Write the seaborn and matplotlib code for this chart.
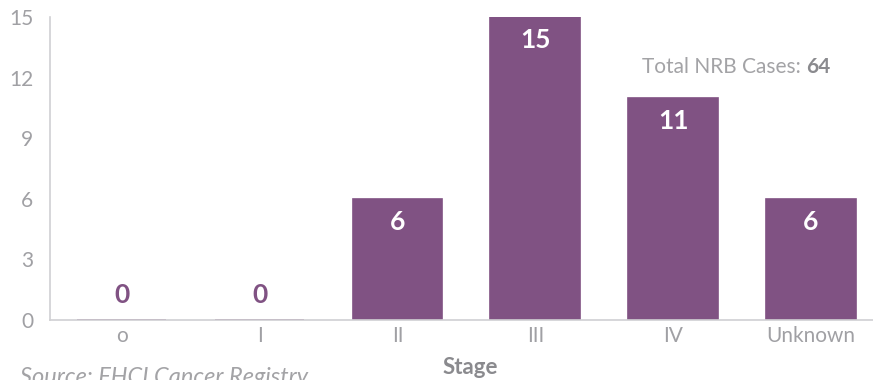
import matplotlib
matplotlib.use("Agg")
import matplotlib.pyplot as plt
import seaborn as sns
import pandas as pd

stages = ["o", "I", "II", "III", "IV", "Unknown"]
cases = [0, 0, 6, 15, 11, 6]
yticks = [0, 3, 6, 9, 12, 15]
total_cases = 64

purple = "#805283"
grey = "#a3a3a6"
dark_grey = "#8a8a8e"

sns.set_theme(style="white")
plt.rcParams["font.family"] = ["Lato", "DejaVu Sans"]

df = pd.DataFrame({"Stage": stages, "Cases": cases})

fig = plt.figure(figsize=(8.73, 3.80), dpi=100)
ax = fig.add_axes([50 / 873, 60 / 380, 1 - 50 / 873, (320 - 17) / 380])

sns.barplot(data=df, x="Stage", y="Cases", order=stages, color=purple,
            saturation=1, width=0.65, ax=ax, edgecolor=purple, linewidth=1.2)

ax.set_xlim(-0.52, 5.45)
ax.set_ylim(0, 15)
ax.set_yticks(yticks)
ax.set_yticklabels([str(v) for v in yticks])
ax.tick_params(axis="both", length=0, labelsize=15, colors="#a0a0a4")
ax.tick_params(axis="y", pad=12)
ax.tick_params(axis="x", pad=4)

for s in ["top", "right"]:
    ax.spines[s].set_visible(False)
for s in ["left", "bottom"]:
    ax.spines[s].set_color("#d0d0d3")
    ax.spines[s].set_linewidth(1.2)

ax.set_xlabel("")
ax.set_ylabel("")

for i, v in enumerate(cases):
    if v == 0:
        ax.annotate(str(v), xy=(i, 0), xytext=(0, 25), textcoords="offset pixels",
                    ha="center", va="center", fontsize=19, fontweight="bold",
                    color=purple)
    else:
        ax.annotate(str(v), xy=(i, v), xytext=(0, -23), textcoords="offset pixels",
                    ha="center", va="center", fontsize=19, fontweight="bold",
                    color="white")

t = fig.text(642 / 873, 1 - 67 / 380, "Total NRB Cases: ", ha="left", va="center",
             fontsize=15, color=grey)
ax.annotate(str(total_cases), xy=(1, 0.5), xycoords=t, ha="left", va="center",
            fontsize=15, fontweight="bold", color=dark_grey)

fig.text(470 / 873, 1 - 368 / 380, "Stage", ha="center", va="center",
         fontsize=16, fontweight="bold", color=dark_grey)
fig.text(20 / 873, 1 - 378 / 380, "Source: FHCI Cancer Registry", ha="left",
         va="center", fontsize=17, style="italic", color=grey)

fig.savefig("out.png", dpi=100)
